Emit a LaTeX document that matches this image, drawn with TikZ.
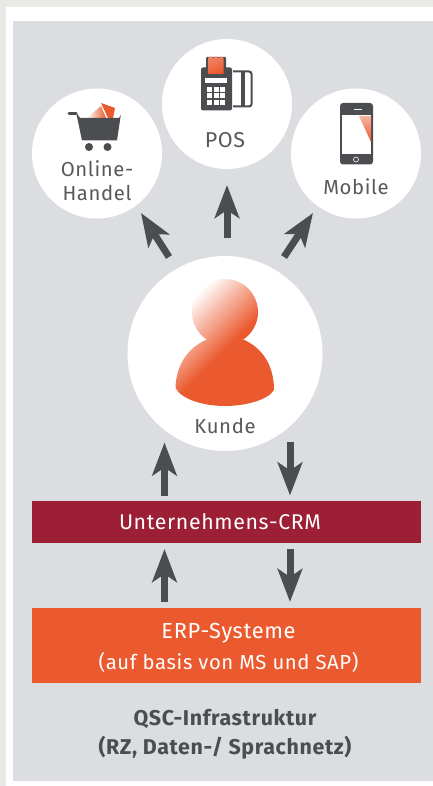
\documentclass[tikz,border=0pt]{standalone}
\usepackage{fontspec}
\setmainfont{Fira Sans}[LetterSpace=3]
\usetikzlibrary{arrows.meta}
\definecolor{outerbg}{HTML}{E9E9E5}
\definecolor{panelbg}{HTML}{DCDDE1}
\definecolor{darkg}{HTML}{4C4D51}
\definecolor{labelg}{HTML}{58595C}
\definecolor{qorange}{HTML}{EB5A2F}
\definecolor{qred}{HTML}{9C1F35}
\newcommand{\persongrad}{%
  \shade[left color=white,right color=qorange,transform canvas={shift={(210,322.5)},rotate=-45}] (-30,-90) rectangle (30,90);
  \fill[qorange,transform canvas={shift={(210,322.5)},rotate=-45}] (29.5,-90) rectangle (120,90);}
\tikzset{
  x=1pt,y=-1pt,
  bubble/.style={circle,fill=white,inner sep=0pt,minimum size=130pt},
  bar/.style={rectangle,inner sep=0pt,minimum width=389pt},
  bartext/.style={text=white,align=center,inner sep=0pt},
  lab/.style={text=labelg,font=\fontsize{20.3}{23.5}\selectfont,align=center,inner sep=0pt},
  blockarrow/.style={draw=darkg,line width=7pt,-{Stealth[length=33pt,width=24.5pt,inset=8pt]}},
  icon/.style={fill=darkg,draw=none},
}
\begin{document}
\begin{tikzpicture}
\useasboundingbox (0,0) rectangle (433,786);
\fill[outerbg] (0,0) rectangle (433,786);
\fill[white] (6,7) rectangle (433,786);
\fill[panelbg] (13,21) rectangle (433,781);
% circles
\node[bubble] (online) at (97,153.5) {};
\node[bubble] (pos) at (227,104) {};
\node[bubble] (mobile) at (356,153.5) {};
\node[bubble,minimum size=195pt] (kunde) at (225,353.5) {};
% bars
\node[bar,fill=qred,minimum height=42pt] (crm) at (226.5,522) {};
\node[bartext,font=\fontsize{21.3}{25}\selectfont] (lcrm) at (220,522) {Unternehmens-CRM};
\node[bar,fill=qorange,minimum height=75pt] (erp) at (226.5,645.5) {};
\node[bartext,font=\fontsize{21.8}{25}\selectfont] (lerp1) at (228.5,633) {ERP-Systeme};
\node[bartext,font=\fontsize{20.3}{25}\selectfont] (lerp2) at (228.5,662) {(auf basis von MS und SAP)};
% labels
\node[lab] (lonline) at (97,180.5) {Online-\\Handel};
\node[lab,font=\fontsize{21.5}{25}\selectfont] (lpos) at (225,140.5) {POS};
\node[lab] (lmobile) at (356,187) {Mobile};
\node[lab] (lkunde) at (225,425.7) {Kunde};
\node[text=darkg,font=\bfseries\fontsize{21.4}{28.5}\selectfont,align=center,inner sep=0pt] (infra) at (225,734) {QSC-Infrastruktur\\(RZ, Daten-/ Sprachnetz)};
% arrow ends
\coordinate (a1s) at (169,257); \coordinate (a1e) at (141,213);
\coordinate (a2s) at (227,238); \coordinate (a2e) at (227,185);
\coordinate (a3s) at (284,257); \coordinate (a3e) at (313,213);
\coordinate (a4s) at (164.5,496); \coordinate (a4e) at (164.5,442.5);
\coordinate (a5s) at (290,442); \coordinate (a5e) at (290,495.5);
\coordinate (a6s) at (164.5,602); \coordinate (a6e) at (164.5,549);
\coordinate (a7s) at (290,548.5); \coordinate (a7e) at (290,602);
\foreach \s/\e in {a1s/a1e,a2s/a2e,a3s/a3e,a4s/a4e,a5s/a5e,a6s/a6e,a7s/a7e}
  \draw[blockarrow] (\s) -- (\e);
% person
\begin{scope}
  \clip (225,312) circle (33);
  \persongrad
\end{scope}
\begin{scope}
  \clip (208,339) .. controls (188,347) and (176,365) .. (175.5,388)
        .. controls (182,400) and (205,406) .. (225,406)
        .. controls (245,406) and (268,400) .. (274,390)
        .. controls (274,365) and (262,347) .. (242,339) -- cycle;
  \persongrad
\end{scope}
% cart
\shade[left color=white,right color=qorange] (87,118) -- (101,106) -- (106,118) -- cycle;
\fill[qorange] (101,103) -- (115,108) -- (113,118) -- (108,118) -- cycle;
\draw[darkg,line width=3pt,line cap=round] (69,113.5) -- (76,113.5);
\fill[icon] (76,112) -- (80,118) -- (119,118) -- (120.8,115) -- (117,140.5) -- (82,140.5) -- cycle;
\fill[icon] (89,147) circle (4) (107.5,147) circle (4);
% pos terminal
\fill[icon,rounded corners=1pt] (206,57) rectangle (226,72);
\fill[icon,rounded corners=2pt] (201,67.5) rectangle (232,110.5);
\shade[left color=qorange!75!white,right color=qorange,shading angle=20] (208,58) -- (211,56.5) -- (213.5,58) -- (216,56.5) -- (218.5,58) -- (221,56.5) -- (223.5,58) -- (223.5,74) -- (208,74) -- cycle;
\fill[white] (205,78.5) rectangle (227,83.5);
\foreach \yy in {87,93.5,100}
  \foreach \xx in {207,213.5,220}
    \fill[white] (\xx,\yy) rectangle ++(5,5);
\draw[darkg,line width=2pt,rounded corners=2.5pt] (233,71.5) -- (251.5,71.5) -- (251.5,106.5) -- (233,106.5);
\fill[darkg] (241,72) rectangle (245,106);
% phone
\fill[icon,rounded corners=3pt] (340,103) rectangle (373,164.5);
\fill[white] (342,115) rectangle (371,154);
\shade[top color=qorange!45!white,bottom color=qorange] (359,116) -- (371,116) -- (371,142) -- cycle;
\fill[white] (354,108.6) rectangle (362,110);
\draw[white,line width=.6pt] (356,159.5) circle (2.5);
\end{tikzpicture}
\end{document}
